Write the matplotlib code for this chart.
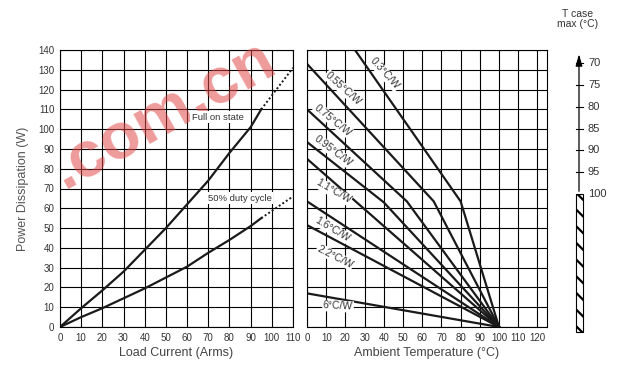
import numpy as np
import matplotlib.pyplot as plt

plt.rcParams['font.family'] = ['Liberation Sans', 'DejaVu Sans']
plt.rcParams['hatch.linewidth'] = 1.6

# left panel: power dissipation vs load current
current = [0, 10, 20, 30, 40, 50, 60, 70, 80, 90, 95]
p_full = [0, 9.5, 18.5, 28, 39, 50, 62, 74, 88, 101, 110]
p_half = [0, 5, 9.5, 14.5, 19.5, 25, 30.5, 37.5, 44, 51, 55]
full_dot_x = [95, 110]
full_dot_y = [110, 131]
half_dot_x = [95, 110]
half_dot_y = [55, 66]

# right panel: derating lines per thermal resistance (Ta, P)
rth_labels = ['0.3°C/W', '0.55°C/W', '0.75°C/W', '0.95°C/W', '1.1°C/W',
              '1.6°C/W', '2.2°C/W', '6°C/W']
rth_ta = [[25, 80, 100], [0, 66, 100], [0, 52, 100], [0, 40, 100],
          [0, 100], [0, 100], [0, 100], [0, 100]]
rth_p = [[140, 63.5, 0], [133, 63.5, 0], [110, 63.5, 0], [93.5, 63, 0],
         [85, 0], [63.5, 0], [51.5, 0], [17, 0]]
lab_pos = [(40.5, 128), (18.8, 120.5), (13.6, 104.5), (13.6, 89),
           (13.6, 68.5), (13, 49.5), (14.6, 35.5), (16.2, 10.5)]
lab_rot = [-48, -42, -39, -37, -30, -31, -27, -3]

tcase_ticks = [70, 75, 80, 85, 90, 95, 100]

fig = plt.figure(figsize=(6.2, 3.69), dpi=100)
W, H = 620, 369


def px_axes(x0, y0, x1, y1):
    return fig.add_axes([x0 / W, 1 - y1 / H, (x1 - x0) / W, (y1 - y0) / H])


txt = '#333333'
ax1 = px_axes(60, 50, 293, 327)
ax1.plot(current, p_full, color='#1a1a1a', lw=1.6)
ax1.plot(current, p_half, color='#1a1a1a', lw=1.6)
ax1.plot(full_dot_x, full_dot_y, color='#1a1a1a', lw=1.4, ls=(0, (1, 1.2)))
ax1.plot(half_dot_x, half_dot_y, color='#1a1a1a', lw=1.4, ls=(0, (1, 1.2)))
ax1.set_xlim(0, 110)
ax1.set_ylim(0, 140)
ax1.set_xticks(range(0, 111, 10))
ax1.set_yticks(range(0, 141, 10))
ax1.grid(True, color='black', lw=0.8)
ax1.tick_params(length=0, labelsize=7, colors=txt, pad=4)
ax1.set_xlabel('Load Current (Arms)', fontsize=9, color='#444444', labelpad=3)
ax1.set_ylabel('Power Dissipation (W)', fontsize=9, color='#555555', labelpad=7)

ax2 = px_axes(307, 50, 547, 327)
for ta, p in zip(rth_ta, rth_p):
    ax2.plot(ta, p, color='#1a1a1a', lw=1.6, solid_joinstyle='miter')
for lab, (x, y), r in zip(rth_labels, lab_pos, lab_rot):
    ax2.text(x, y, lab, fontsize=7.5, color=txt, ha='center', va='center', rotation=r,
             rotation_mode='anchor',
             bbox=dict(facecolor='white', edgecolor='none', pad=0.5))
ax2.set_xlim(0, 125)
ax2.set_ylim(0, 140)
ax2.set_xticks(range(0, 121, 10))
ax2.set_yticks(range(0, 141, 10))
ax2.set_yticklabels([])
ax2.grid(True, color='black', lw=0.8)
ax2.tick_params(length=0, labelsize=7, colors=txt, pad=4)
ax2.set_xlabel('Ambient Temperature (°C)', fontsize=9, color='#444444', labelpad=3)

# T case max scale
ax3 = px_axes(560, 40, 610, 335)
ax3.set_xlim(0, 50)
ax3.set_ylim(132.3, 64.7)
ax3.axis('off')
ax3.annotate('', xy=(19, 67.3), xytext=(19, 100),
             arrowprops=dict(arrowstyle='-|>,head_width=0.2,head_length=0.7',
                             color='black', lw=0.9))
ax3.bar(19, 131.6 - 100, bottom=100, width=7, color='white', edgecolor='black',
        hatch='\\\\', lw=0.8)
for t in tcase_ticks[:-1]:
    ax3.plot([15.5, 22.5], [t, t], color='black', lw=0.8)
for t in tcase_ticks:
    ax3.text(28, t, str(t), fontsize=8, color=txt, ha='left', va='center')
fig.text(578 / W, 1 - 19 / H, 'T case\nmax (°C)', fontsize=7.5, color=txt,
         ha='center', va='center', linespacing=1.1)

# watermark
fig.text(164 / W, 1 - 115 / H, '.com.cn', fontsize=47, fontweight='bold',
         color='#e04848', alpha=0.55, rotation=29, ha='center', va='center')

# curve labels drawn above the watermark
fig.text((60 + 74.5 * 233 / 110) / W, 1 - (327 - 106 * 277 / 140) / H, 'Full on state',
         fontsize=6.8, color=txt, ha='center', va='center',
         bbox=dict(facecolor='white', edgecolor='none', pad=1))
ax1.text(85, 65, '50% duty cycle', fontsize=6.8, color=txt, ha='center', va='center',
         bbox=dict(facecolor='white', edgecolor='none', pad=1))

fig.savefig('out.png', dpi=100)
